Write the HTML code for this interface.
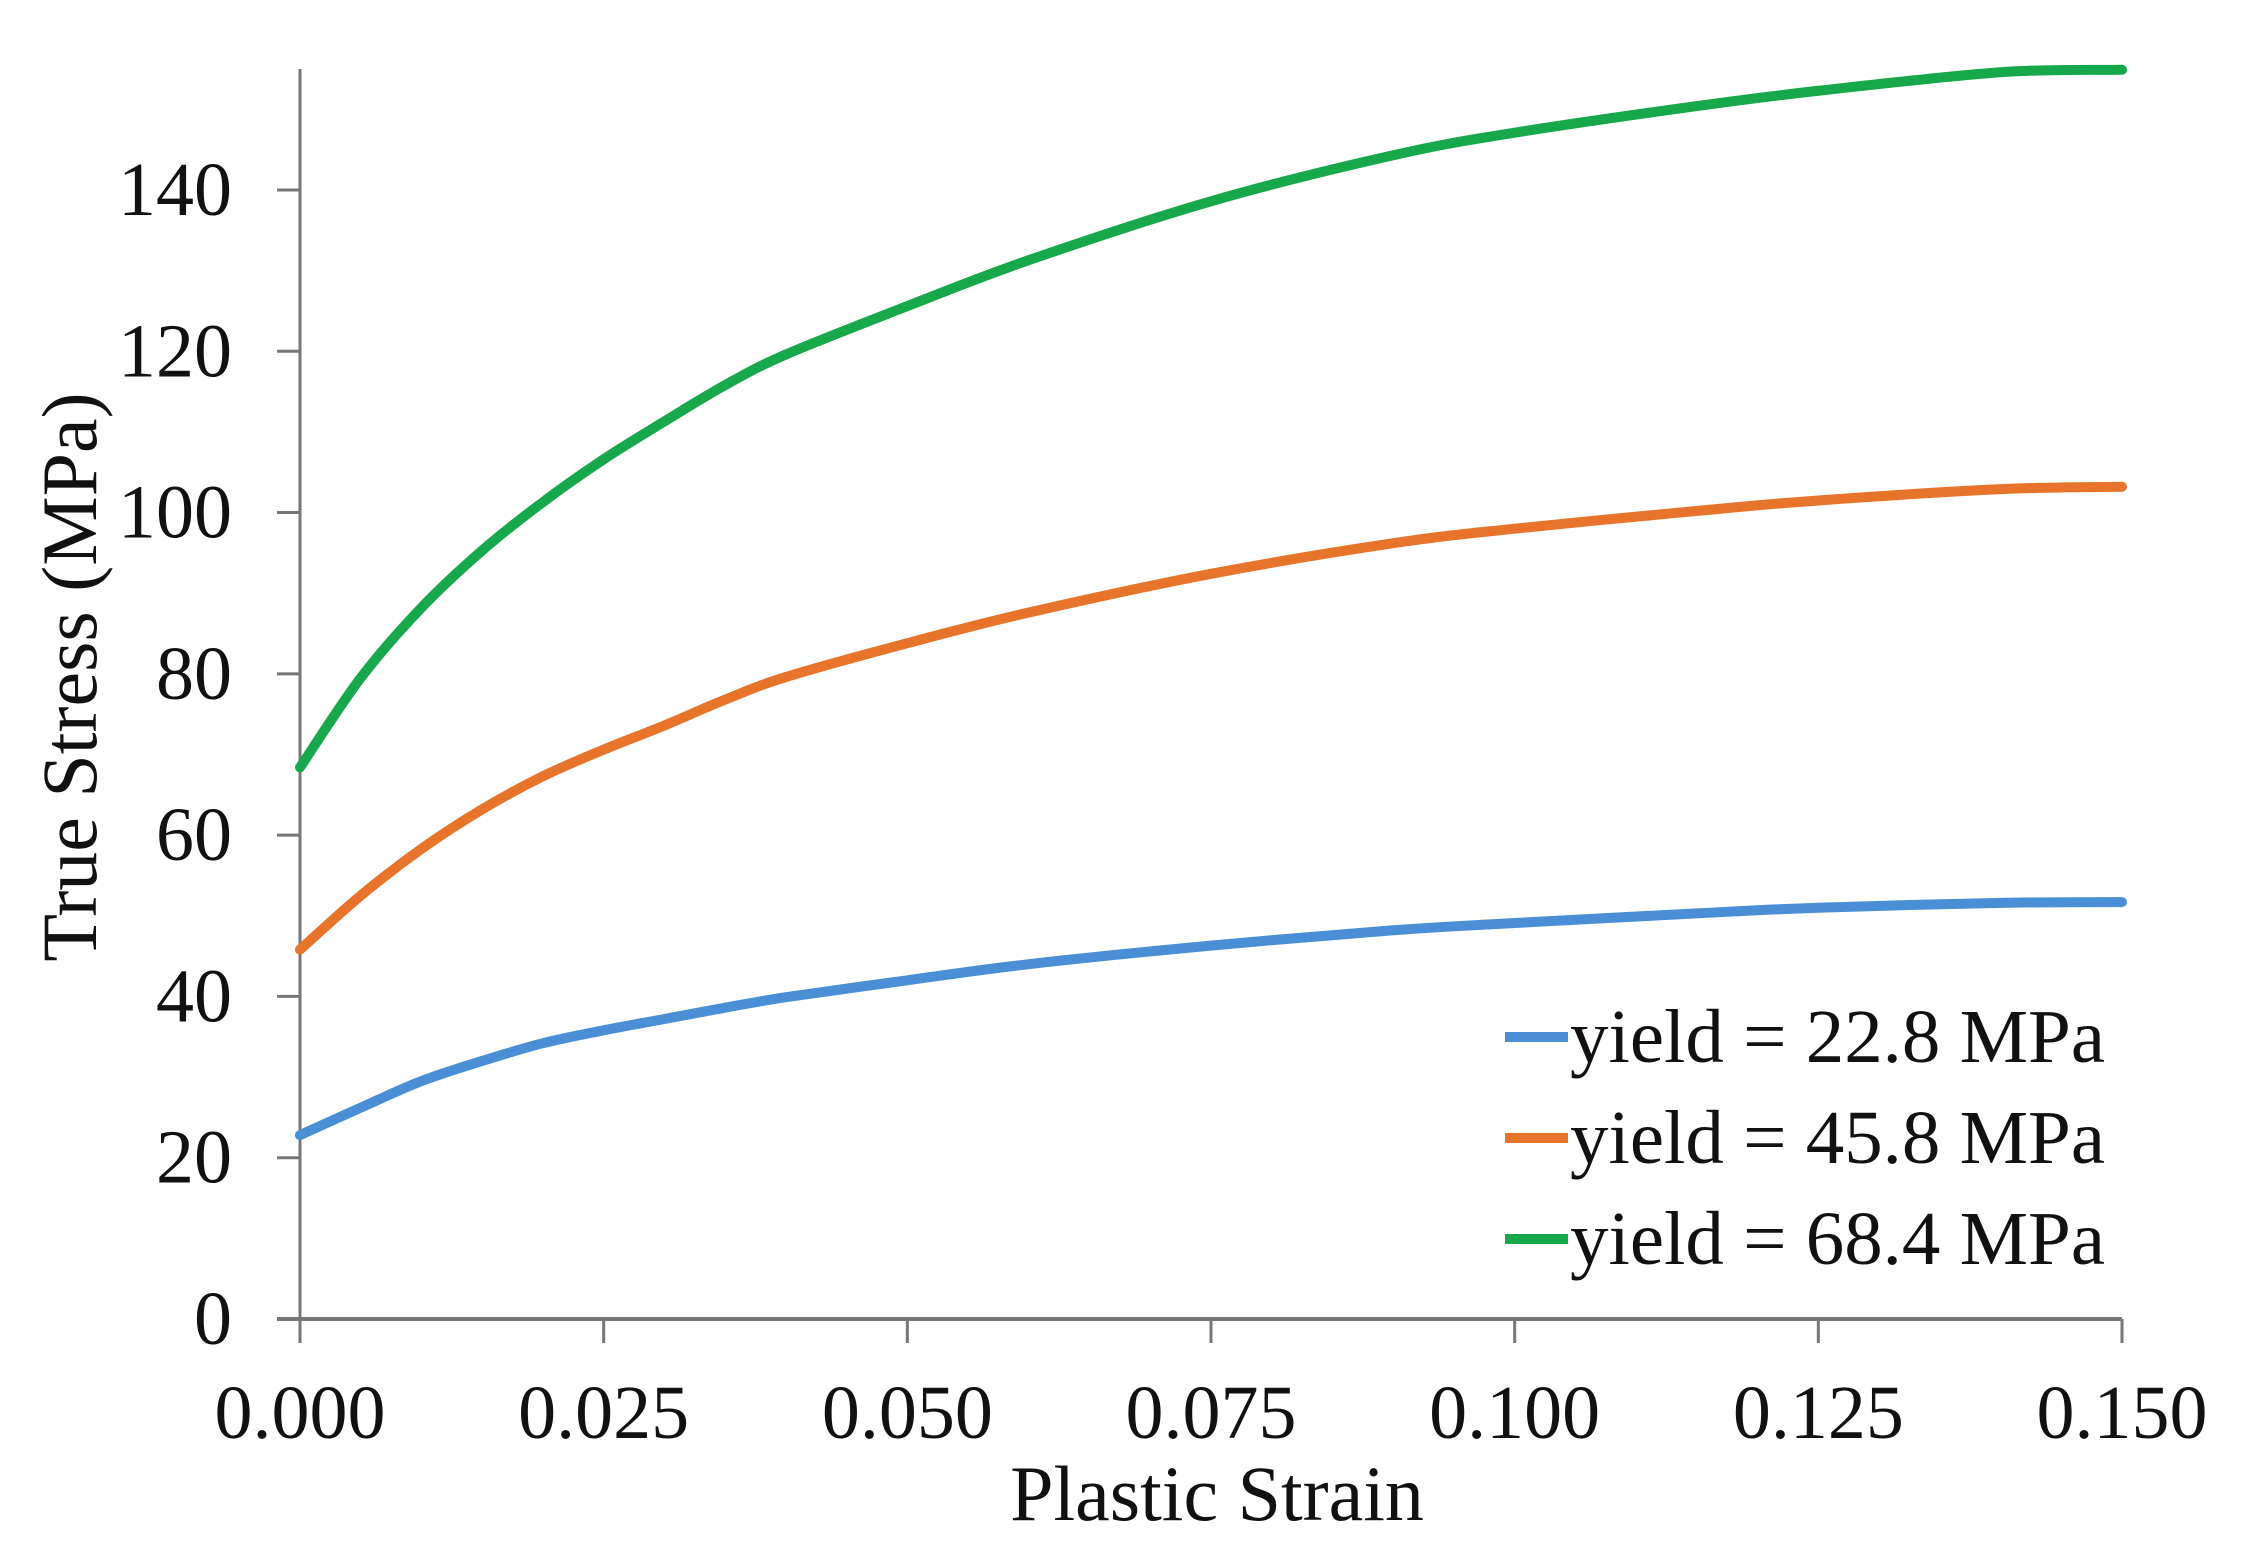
<!DOCTYPE html>
<html><head><meta charset="utf-8"><style>
html,body{margin:0;padding:0;background:#fff;}
svg{display:block;}
text{font-family:"Liberation Serif",serif;fill:#111;}
</style></head><body>
<svg id="chart" width="2260" height="1556" viewBox="0 0 2260 1556" xmlns="http://www.w3.org/2000/svg">
<g id="axes"></g>
<g id="series"></g>
<g id="legend"></g>
<text x="1217" y="1520" font-size="78" text-anchor="middle">Plastic Strain</text>
<text x="0" y="0" font-size="78" text-anchor="middle" transform="translate(96,677) rotate(-90)">True Stress (MPa)</text>
</svg>
<script>
const xTicks=[0,0.025,0.05,0.075,0.1,0.125,0.15];
const xTickLabels=["0.000","0.025","0.050","0.075","0.100","0.125","0.150"];
const yTicks=[0,20,40,60,80,100,120,140];
const seriesNames=["yield = 22.8 MPa","yield = 45.8 MPa","yield = 68.4 MPa"];
const seriesColors=["#4a8fd6","#e8732a","#16a84a"];
const strainX=[0,0.005,0.01,0.015,0.02,0.025,0.03,0.035,0.04,0.05,0.06,0.075,0.09,0.1,0.115,0.125,0.14,0.15];
const blueY=[22.8,26.2,29.5,32,34.2,35.8,37.2,38.6,39.9,42,44,46.3,48.2,49.1,50.3,51,51.6,51.7];
const orangeY=[45.8,52.5,58.3,63.2,67.3,70.6,73.6,76.8,79.6,83.8,87.6,92.4,96.2,98,100.2,101.5,102.9,103.2];
const greenY=[68.4,79.5,88.2,95.3,101.3,106.6,111.3,115.8,119.6,125.6,131.3,138.6,144.3,147.1,150.4,152.3,154.6,154.9];
const X0=300,X1=2122,Y0=1319,YMAX_PX=69;
const xMax=0.15,yMax=155;
function sx(v){return X0+(v/xMax)*(X1-X0);}
function sy(v){return Y0-(v/yMax)*(Y0-YMAX_PX);}
const NS="http://www.w3.org/2000/svg";
function mk(tag,attrs,parent){const e=document.createElementNS(NS,tag);for(const k in attrs)e.setAttribute(k,attrs[k]);parent.appendChild(e);return e;}
const axes=document.getElementById('axes');
let yl=mk('line',{x1:X0,y1:YMAX_PX,x2:X0,y2:Y0,stroke:'#777','stroke-width':3},axes);


let xl=mk('line',{x1:X0-23,y1:Y0,x2:X1,y2:Y0,stroke:'#777','stroke-width':4},axes);


yTicks.forEach(v=>{
  const y=sy(v);
  const t=mk('line',{x1:X0-23,y1:y,x2:X0,y2:y,stroke:'#777','stroke-width':3},axes);
  
  
  const l=mk('text',{x:232,y:y+25,'font-size':76,'text-anchor':'end'},axes);
  l.textContent=v;
  
  
});
xTicks.forEach((v,i)=>{
  const x=sx(v);
  const t=mk('line',{x1:x,y1:Y0,x2:x,y2:Y0+24,stroke:'#777','stroke-width':3},axes);
  
  
  const l=mk('text',{x:x,y:1438,'font-size':76,'text-anchor':'middle'},axes);
  l.textContent=xTickLabels[i];
  
  
});
const sg=document.getElementById('series');
const allY=[blueY,orangeY,greenY];
const keys=['blue','orange','green'];
allY.forEach((ys,i)=>{
  const pts=strainX.map((x,j)=>[sx(x),sy(ys[j])]);
  let d='M'+pts[0][0]+','+pts[0][1];
  for(let j=0;j<pts.length-1;j++){
    const p0=pts[Math.max(0,j-1)],p1=pts[j],p2=pts[j+1],p3=pts[Math.min(pts.length-1,j+2)];
    const c1x=p1[0]+(p2[0]-p0[0])/6,c1y=p1[1]+(p2[1]-p0[1])/6;
    const c2x=p2[0]-(p3[0]-p1[0])/6,c2y=p2[1]-(p3[1]-p1[1])/6;
    d+=' C'+c1x+','+c1y+' '+c2x+','+c2y+' '+p2[0]+','+p2[1];
  }
  const p=mk('path',{d:d,fill:'none',stroke:seriesColors[i],'stroke-width':10,'stroke-linecap':'round'},sg);
  
  
});
const lg=document.getElementById('legend');
const legY=[1037,1138,1239];
seriesNames.forEach((n,i)=>{
  const y=legY[i];
  const ln=mk('line',{x1:1505,y1:y,x2:1568,y2:y,stroke:seriesColors[i],'stroke-width':10},lg);
  
  
  const t=mk('text',{x:1570,y:y+25,'font-size':76,textLength:535,lengthAdjust:'spacingAndGlyphs'},lg);
  t.textContent=n;
  
  
});
</script>
</body></html>
